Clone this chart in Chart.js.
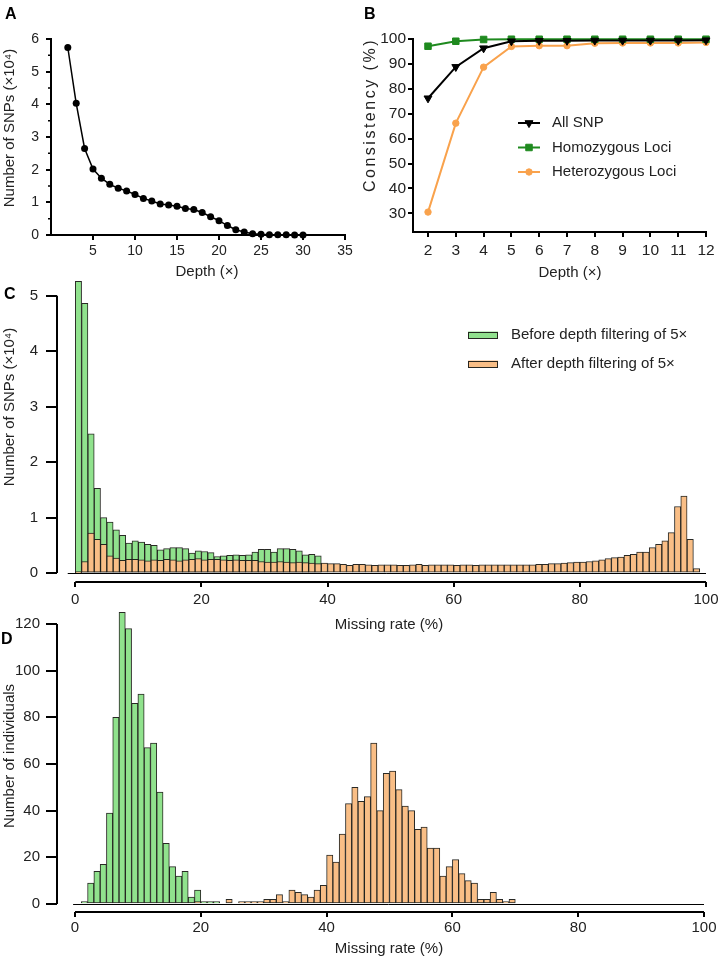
<!DOCTYPE html>
<html>
<head>
<meta charset="utf-8">
<script src="https://cdn.jsdelivr.net/npm/chart.js@4.4.1/dist/chart.umd.min.js"></script>
<style>
  body { margin: 0; background: #fff; }
  #fig { position: relative; width: 721px; height: 959px; overflow: hidden; font-family: 'Liberation Sans', Arial, sans-serif; }
  #fig canvas { position: absolute; }
  .tag { position: absolute; font-weight: bold; font-size: 16px; line-height: 1; color: #000; }
</style>
</head>
<body>
<div id="fig">
  <canvas id="chartA" width="360" height="285" style="left:0;top:0"></canvas>
  <canvas id="chartB" width="361" height="285" style="left:360px;top:0"></canvas>
  <canvas id="chartC" width="721" height="365" style="left:0;top:270px"></canvas>
  <canvas id="chartD" width="721" height="359" style="left:0;top:600px"></canvas>
  <div class="tag" style="left:5px;top:6px">A</div>
  <div class="tag" style="left:364px;top:6px">B</div>
  <div class="tag" style="left:4px;top:286px">C</div>
  <div class="tag" style="left:1px;top:631px">D</div>
</div>
<script>
// ---------------- data ----------------
// A: SNP count by depth
const depthA = [2, 3, 4, 5, 6, 7, 8, 9, 10, 11, 12, 13, 14, 15, 16, 17, 18, 19, 20, 21, 22, 23, 24, 25, 26, 27, 28, 29, 30];
const snpA   = [5.74, 4.03, 2.65, 2.02, 1.74, 1.55, 1.43, 1.35, 1.24, 1.12, 1.04, 0.95, 0.92, 0.88, 0.81, 0.78, 0.69, 0.56, 0.44, 0.29, 0.16, 0.09, 0.04, 0.02, 0.01, 0.01, 0.005, 0, 0];
const ticksAx = [5, 10, 15, 20, 25, 30, 35];
const ticksAy = [0, 1, 2, 3, 4, 5, 6];
const minorAy = [0.5, 1.5, 2.5, 3.5, 4.5, 5.5];

// B: consistency by depth
const depthB     = [2, 3, 4, 5, 6, 7, 8, 9, 10, 11, 12];
const allSnp     = [76.2, 88.8, 96.3, 99.1, 99.3, 99.3, 99.4, 99.4, 99.4, 99.4, 99.5];
const homoLoci   = [97.1, 99.1, 99.8, 99.9, 99.9, 99.9, 99.9, 99.9, 99.9, 99.9, 99.9];
const heteroLoci = [30.5, 66.2, 88.7, 97.0, 97.3, 97.3, 98.3, 98.4, 98.4, 98.4, 98.6];
const ticksBx = [2, 3, 4, 5, 6, 7, 8, 9, 10, 11, 12];
const ticksBy = [30, 40, 50, 60, 70, 80, 90, 100];

// C: SNP missing rate histogram (1% bins, x10^4)
const beforeC = [5.26, 4.86, 2.51, 1.53, 1.00, 0.92, 0.78, 0.68, 0.54, 0.58,
                 0.56, 0.52, 0.50, 0.42, 0.44, 0.46, 0.46, 0.44, 0.36, 0.40,
                 0.39, 0.37, 0.30, 0.31, 0.32, 0.33, 0.32, 0.33, 0.38, 0.43,
                 0.43, 0.38, 0.44, 0.44, 0.43, 0.40, 0.33, 0.34, 0.31];
const afterC  = [0.01, 0.21, 0.72, 0.61, 0.52, 0.31, 0.27, 0.23, 0.25, 0.25,
                 0.24, 0.22, 0.24, 0.23, 0.25, 0.24, 0.22, 0.24, 0.25, 0.26,
                 0.24, 0.25, 0.25, 0.24, 0.23, 0.24, 0.23, 0.23, 0.23, 0.21,
                 0.20, 0.20, 0.21, 0.20, 0.19, 0.20, 0.19, 0.18, 0.17, 0.18,
                 0.17, 0.17, 0.16, 0.14, 0.16, 0.16, 0.15, 0.14, 0.15, 0.15,
                 0.15, 0.14, 0.14, 0.15, 0.16, 0.14, 0.15, 0.15, 0.15, 0.15,
                 0.14, 0.15, 0.15, 0.14, 0.15, 0.15, 0.15, 0.15, 0.15, 0.15,
                 0.15, 0.15, 0.15, 0.16, 0.16, 0.17, 0.17, 0.18, 0.19, 0.20,
                 0.20, 0.21, 0.22, 0.24, 0.26, 0.28, 0.29, 0.32, 0.34, 0.38,
                 0.38, 0.46, 0.52, 0.58, 0.73, 1.20, 1.39, 0.61, 0.08, 0];
const ticksCx = [0, 20, 40, 60, 80, 100];
const ticksCy = [0, 1, 2, 3, 4, 5];

// D: individual missing rate histogram (1% bins)
const beforeD = [0, 1, 9, 14, 17, 39, 80, 125, 118, 86, 90, 67, 69, 48, 26, 16, 12, 14, 3, 6, 1, 1, 1];
const afterD  = [0, 0, 0, 0, 0, 0, 0, 0, 0, 0,
                 0, 0, 0, 0, 0, 0, 0, 0, 0, 1,
                 0, 0, 0, 0, 2, 0, 1, 1, 1, 1,
                 2, 2, 4, 1, 6, 5, 4, 3, 6, 8,
                 21, 18, 30, 43, 50, 44, 46, 69, 40, 56,
                 57, 49, 42, 40, 32, 33, 24, 24, 12, 16,
                 19, 13, 10, 9, 2, 2, 5, 2, 1, 2];
const ticksDx = [0, 20, 40, 60, 80, 100];
const ticksDy = [0, 20, 40, 60, 80, 100, 120];

// ---------------- helpers ----------------
const FONT = "'Liberation Sans', Arial, sans-serif";
Chart.defaults.font.family = FONT;
Chart.defaults.font.size = 15;
Chart.defaults.color = '#222';

const GREEN_FILL = '#90e28d', ORANGE_FILL = '#f9be86', BAR_EDGE = 'rgba(30,30,25,0.95)';

function axis({ min, max, ticks, size, tickLen, pad, border = true, font = 15 }) {
    return {
        type: 'linear', min, max, offset: false,
        border: { display: border, color: '#000', width: 2 },
        grid: { drawOnChartArea: false, tickLength: tickLen, color: '#000', lineWidth: 2, offset: false },
        ticks: { padding: pad, maxRotation: 0, minRotation: 0, autoSkip: false, color: '#222', font: { size: font }, callback: v => String(v) },
        afterBuildTicks: s => { s.ticks = ticks.map(v => ({ value: v })); },
        afterFit: s => {
            if (s.isHorizontal()) s.height = size; else s.width = size;
            s.paddingLeft = s.paddingRight = s.paddingTop = s.paddingBottom = 0;
        }
    };
}

const bins = vals => vals.map((v, i) => ({ x: i + 0.5, y: v })).filter(p => p.y > 0);

// axis lines drawn off the data area (offset axes in C/D, minor ticks in A)
const axisLines = {
    id: 'axisLines',
    beforeDatasetsDraw(chart, args, o) {
        if (!o.lines) return;
        const { ctx, chartArea: a, scales: { x, y } } = chart;
        ctx.save(); ctx.strokeStyle = '#000';
        o.lines.forEach(l => {
            ctx.lineWidth = l.width; ctx.beginPath();
            if (l.dir === 'x') {
                const py = l.y === undefined ? a.bottom : Math.round(y.getPixelForValue(l.y)) + 0.5;
                ctx.moveTo(x.getPixelForValue(l.from), py); ctx.lineTo(x.getPixelForValue(l.to), py);
            } else if (l.dir === 'y') {
                ctx.moveTo(a.left, y.getPixelForValue(l.from)); ctx.lineTo(a.left, y.getPixelForValue(l.to));
            } else {
                l.values.forEach(v => { const py = y.getPixelForValue(v); ctx.moveTo(a.left - l.len, py); ctx.lineTo(a.left, py); });
            }
            ctx.stroke();
        });
        ctx.restore();
    }
};

const axisTitles = {
    id: 'axisTitles',
    afterDraw(chart, args, o) {
        if (!o.items) return;
        const ctx = chart.ctx;
        ctx.save();
        ctx.fillStyle = '#222';
        ctx.textAlign = 'center'; ctx.textBaseline = 'middle';
        o.items.forEach(t => {
            ctx.save();
            ctx.font = `${t.size || 15}px ${FONT}`;
            ctx.letterSpacing = t.spacing || '0px';
            ctx.translate(t.x, t.y);
            if (t.vertical) ctx.rotate(-Math.PI / 2);
            ctx.fillText(t.text, 0, 0);
            ctx.restore();
        });
        ctx.restore();
    }
};

const panelLegend = {
    id: 'panelLegend',
    afterDraw(chart, args, o) {
        if (!o.order) return;
        const ctx = chart.ctx;
        ctx.save();
        ctx.font = `15px ${FONT}`; ctx.textBaseline = 'middle'; ctx.textAlign = 'left';
        o.order.forEach((di, k) => {
            const ds = chart.data.datasets[di];
            const y = o.y + k * o.dy;
            if (o.kind === 'line') {
                ctx.strokeStyle = ds.borderColor; ctx.lineWidth = ds.borderWidth;
                ctx.beginPath(); ctx.moveTo(o.x, y); ctx.lineTo(o.x + o.w, y); ctx.stroke();
                ctx.fillStyle = ds.pointBackgroundColor; ctx.strokeStyle = ds.pointBorderColor; ctx.lineWidth = 1;
                Chart.helpers.drawPoint(ctx, { pointStyle: ds.pointStyle, rotation: ds.pointRotation || 0, radius: ds.pointRadius, borderWidth: 1 }, o.x + o.w / 2, y);
            } else {
                ctx.fillStyle = ds.backgroundColor; ctx.fillRect(o.x, y - o.h / 2, o.w, o.h);
                ctx.strokeStyle = ds.borderColor; ctx.lineWidth = 1;
                ctx.strokeRect(o.x + 0.5, Math.round(y - o.h / 2) + 0.5, o.w - 1, o.h - 1);
            }
            ctx.fillStyle = '#222';
            ctx.fillText(ds.label, o.x + o.textGap, y);
        });
        ctx.restore();
    }
};

Chart.register(axisLines, axisTitles, panelLegend);

const base = (padding) => ({
    responsive: false, animation: false, events: [],
    layout: { padding, autoPadding: false },
});

// ---------------- A ----------------
new Chart(document.getElementById('chartA'), {
    type: 'line',
    data: { datasets: [{ data: depthA.map((d, i) => ({ x: d, y: snpA[i] })),
        borderColor: '#000', backgroundColor: '#000', borderWidth: 1.5,
        pointRadius: 3.5, pointBorderWidth: 0, pointBackgroundColor: '#000', clip: false }] },
    options: {
        ...base({ top: 39, right: 15, left: 0, bottom: 0 }),
        plugins: {
            legend: { display: false }, tooltip: { enabled: false },
            axisLines: { lines: [{ dir: 'minor', values: minorAy, len: 3, width: 1.5 }] },
            axisTitles: { items: [
                { text: 'Number of SNPs (×10⁴)', x: 10, y: 128, vertical: true },
                { text: 'Depth (×)', x: 207, y: 272 }
            ] }
        },
        scales: {
            x: axis({ min: 0, max: 35, ticks: ticksAx, size: 50, tickLen: 5, pad: 3, font: 14 }),
            y: axis({ min: 0, max: 6, ticks: ticksAy, size: 51, tickLen: 5, pad: 7, font: 14 })
        }
    }
});

// ---------------- B ----------------
const lineDs = (label, vals, color, style, radius, rot) => ({
    label, data: depthB.map((d, i) => ({ x: d, y: vals[i] })),
    borderColor: color, backgroundColor: color, borderWidth: 2,
    pointStyle: style, pointRadius: radius, pointRotation: rot,
    pointBackgroundColor: color, pointBorderColor: color, pointBorderWidth: 1, clip: false
});

new Chart(document.getElementById('chartB'), {
    type: 'line',
    data: { datasets: [
        lineDs('All SNP', allSnp, '#000000', 'triangle', 4.6, 180),
        lineDs('Homozygous Loci', homoLoci, '#1f8a1f', 'rect', 4.6, 0),
        lineDs('Heterozygous Loci', heteroLoci, '#f9a24c', 'circle', 3.2, 0)
    ] },
    options: {
        ...base({ top: 39, right: 15, left: 0, bottom: 0 }),
        plugins: {
            legend: { display: false }, tooltip: { enabled: false },
            panelLegend: { kind: 'line', order: [0, 1, 2], x: 158, y: 123, dy: 24.5, w: 22, textGap: 34 },
            axisTitles: { items: [
                { text: 'Consistency (%)', x: 11, y: 115, vertical: true, size: 16, spacing: '2.5px' },
                { text: 'Depth (×)', x: 210, y: 273 }
            ] }
        },
        scales: {
            x: axis({ min: 1.46, max: 12, ticks: ticksBx, size: 53, tickLen: 5, pad: 4, font: 15.5 }),
            y: axis({ min: 22.5, max: 100, ticks: ticksBy, size: 53, tickLen: 5, pad: 2, font: 15.5 })
        }
    }
});

// ---------------- C ----------------
new Chart(document.getElementById('chartC'), {
    type: 'bar',
    data: { datasets: [
        { label: 'Before depth filtering of 5×', data: bins(beforeC), order: 1,
          backgroundColor: GREEN_FILL, borderColor: BAR_EDGE, borderWidth: 1, borderSkipped: false,
          barPercentage: 1, categoryPercentage: 1, grouped: false },
        { label: 'After depth filtering of 5×', data: bins(afterC), order: 0,
          backgroundColor: ORANGE_FILL, borderColor: BAR_EDGE, borderWidth: 1, borderSkipped: false,
          barPercentage: 1, categoryPercentage: 1, grouped: false }
    ] },
    options: {
        ...base({ top: 9, right: 15, left: 0, bottom: 0 }),
        plugins: {
            legend: { display: false }, tooltip: { enabled: false },
            axisLines: { lines: [
                { dir: 'y', from: 5, to: 0, width: 2 },
                { dir: 'x', from: 0, to: 100, width: 2 },
                { dir: 'x', y: 0, from: -1.2, to: 100, width: 1 }
            ] },
            panelLegend: { kind: 'box', order: [0, 1], x: 468, y: 65, dy: 29, w: 30, h: 7, textGap: 43 },
            axisTitles: { items: [
                { text: 'Number of SNPs (×10⁴)', x: 10, y: 137, vertical: true },
                { text: 'Missing rate (%)', x: 389, y: 355 }
            ] }
        },
        scales: {
            x: axis({ min: -2.9, max: 100, ticks: ticksCx, size: 53, tickLen: 5, pad: 4, border: false }),
            y: axis({ min: -0.16, max: 5.3, ticks: ticksCy, size: 57, tickLen: 11, pad: 8, border: false })
        }
    }
});

// ---------------- D ----------------
new Chart(document.getElementById('chartD'), {
    type: 'bar',
    data: { datasets: [
        { label: 'Before', data: bins(beforeD), order: 1,
          backgroundColor: GREEN_FILL, borderColor: BAR_EDGE, borderWidth: 1, borderSkipped: false,
          barPercentage: 1, categoryPercentage: 1, grouped: false },
        { label: 'After', data: bins(afterD), order: 0,
          backgroundColor: ORANGE_FILL, borderColor: BAR_EDGE, borderWidth: 1, borderSkipped: false,
          barPercentage: 1, categoryPercentage: 1, grouped: false }
    ] },
    options: {
        ...base({ top: 10, right: 17, left: 0, bottom: 0 }),
        plugins: {
            legend: { display: false }, tooltip: { enabled: false },
            axisLines: { lines: [
                { dir: 'y', from: 120, to: 0, width: 2 },
                { dir: 'x', from: 0, to: 100, width: 2 },
                { dir: 'x', y: 0, from: -0.3, to: 100, width: 1 }
            ] },
            axisTitles: { items: [
                { text: 'Number of individuals', x: 10, y: 156, vertical: true },
                { text: 'Missing rate (%)', x: 389, y: 349 }
            ] }
        },
        scales: {
            x: axis({ min: -2.86, max: 100, ticks: ticksDx, size: 47, tickLen: 5, pad: 2, border: false }),
            y: axis({ min: -3.43, max: 126, ticks: ticksDy, size: 57, tickLen: 11, pad: 6, border: false })
        }
    }
});
</script>
</body>
</html>
